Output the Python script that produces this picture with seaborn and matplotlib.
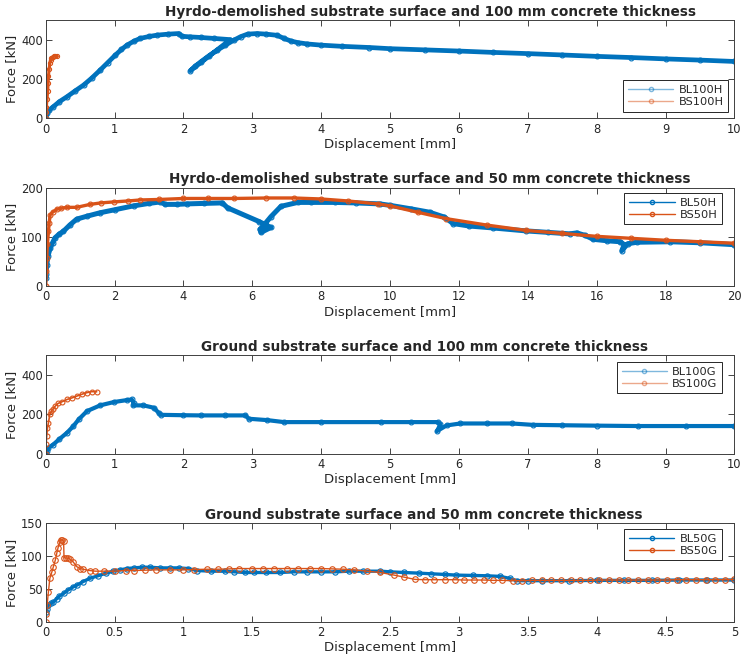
import matplotlib
matplotlib.use("Agg")
import matplotlib.pyplot as plt
from matplotlib.lines import Line2D
from matplotlib.ticker import FuncFormatter
import seaborn as sns
import pandas as pd

# ---------------- data ----------------
# Panel 1: hydro-demolished, 100 mm
bl100h_x = [0, 0.02, 0.05, 0.11, 0.2, 0.31, 0.43, 0.55, 0.67, 0.79, 0.9, 1.01, 1.1, 1.18, 1.28, 1.37,
            1.5, 1.62, 1.78, 1.93, 1.98, 2.1, 2.25, 2.45, 2.68, 2.1, 2.17, 2.25, 2.37, 2.49, 2.61, 2.73,
            2.83, 2.93, 3.07, 3.2, 3.36, 3.46, 3.56, 3.66, 3.8, 4.0, 4.3, 4.7, 5.0, 5.5, 6.0, 6.5, 7.0,
            7.5, 8.0, 8.5, 9.0, 9.5, 10.0]
bl100h_y = [0, 25, 42, 59, 85, 110, 140, 169, 205, 245, 283, 321, 350, 372, 392, 406,
            416, 423, 428, 431, 417, 414, 411, 406, 400, 242, 265, 287, 318, 346, 372, 397,
            415, 428, 431, 428, 422, 406, 393, 385, 378, 372, 366, 360, 354, 348, 342, 335, 329,
            322, 315, 309, 302, 296, 289]
bs100h_x = [0, 0.005, 0.01, 0.02, 0.03, 0.035, 0.04, 0.05, 0.06, 0.07, 0.08, 0.1, 0.12, 0.14, 0.17]
bs100h_y = [0, 30, 60, 100, 140, 180, 215, 250, 280, 296, 305, 312, 315, 316, 315]

# Panel 2: hydro-demolished, 50 mm
bl50h_x = [0, 0.01, 0.03, 0.07, 0.13, 0.2, 0.27, 0.4, 0.51, 0.7, 0.9, 1.2, 1.58, 2.0, 2.55, 3.0, 3.33,
           3.47, 3.8, 4.1, 4.6, 5.13, 5.28, 6.2, 6.54, 6.25, 6.22, 6.35, 6.54, 6.83, 7.32, 7.7, 8.4,
           9.0, 9.7, 10.0, 10.6, 11.15, 11.58, 11.83, 12.3, 13.0, 13.96, 14.6, 15.22, 15.42, 15.66,
           15.9, 16.3, 16.69, 16.8, 16.73, 16.9, 17.17, 18.14, 19.0, 20.0]
bl50h_y = [16, 25, 43, 62, 77, 88, 98, 106, 111, 124, 136, 142, 149, 155, 163, 168, 171,
           166, 166, 167, 168, 169, 159, 131, 119, 109, 115, 125, 141, 162, 170, 170, 170,
           169, 167, 164, 157, 150, 140, 127, 122, 118, 112, 109, 106, 108, 103,
           95, 92, 90, 84, 72, 86, 89, 90, 88, 84]
bs50h_x = [0, 0.02, 0.03, 0.05, 0.08, 0.1, 0.13, 0.2, 0.32, 0.45, 0.61, 0.9, 1.29, 1.6, 1.97, 2.4,
           2.75, 3.3, 4.0, 4.7, 5.47, 6.4, 7.2, 8.0, 8.77, 9.64, 10.0, 10.8, 11.63, 12.8, 13.96,
           15.0, 16.0, 17.0, 18.0, 19.0, 20.0]
bs50h_y = [0, 30, 57, 85, 111, 128, 145, 150, 156, 158, 160, 160, 166, 169, 171, 173,
           175, 176, 178, 178, 178, 179, 179, 177, 173, 167, 163, 150, 137, 124, 113,
           107, 101, 97, 93, 90, 87]

# Panel 3: ground, 100 mm
bl100g_x = [0, 0.02, 0.04, 0.11, 0.2, 0.31, 0.4, 0.48, 0.6, 0.79, 0.99, 1.18, 1.25, 1.28, 1.27, 1.42,
            1.57, 1.64, 1.67, 2.0, 2.25, 2.6, 2.9, 2.95, 3.22, 3.46, 4.0, 4.87, 5.3, 5.69, 5.73, 5.68,
            5.82, 6.02, 6.4, 6.77, 7.07, 7.5, 8.0, 8.6, 9.3, 10.0]
bl100g_y = [0, 15, 31, 47, 75, 107, 140, 175, 217, 246, 263, 273, 276, 256, 246, 246,
            234, 208, 198, 196, 195, 195, 195, 178, 171, 161, 161, 161, 161, 161, 149, 115,
            144, 154, 154, 154, 147, 145, 143, 141, 141, 141]
bs100g_x = [0, 0.005, 0.015, 0.025, 0.04, 0.06, 0.08, 0.11, 0.14, 0.18, 0.24, 0.31, 0.38, 0.45,
            0.52, 0.6, 0.67, 0.74]
bs100g_y = [0, 50, 90, 130, 158, 200, 215, 229, 243, 256, 265, 276, 284, 293, 302, 311, 316, 315]

# Panel 4: ground, 50 mm
bl50g_x = [0, 0.01, 0.02, 0.04, 0.056, 0.08, 0.1, 0.13, 0.16, 0.2, 0.23, 0.27, 0.32, 0.38, 0.44,
           0.49, 0.54, 0.59, 0.64, 0.7, 0.76, 0.83, 0.9, 0.97, 1.03, 1.1, 1.2, 1.3, 1.37, 1.45, 1.51,
           1.6, 1.7, 1.8, 1.9, 2.0, 2.1, 2.2, 2.3, 2.43, 2.5, 2.6, 2.71, 2.8, 2.9, 2.98, 3.1, 3.2,
           3.3, 3.37, 3.42, 3.5, 3.6, 3.8, 4.0, 4.2, 4.4, 4.6, 4.8, 5.0]
bl50g_y = [15, 20, 25, 28, 30, 35, 39, 43, 48, 53, 56, 61, 66, 70, 74,
           77, 79, 81, 82, 83, 83, 82, 82, 82, 81, 78, 77, 77, 76, 75, 75,
           75, 75, 76, 76, 76, 76, 77, 77, 77, 76, 75, 74, 73, 72, 71, 70.5, 70,
           69, 66, 62.5, 62.5, 62.5, 62.5, 63, 63, 63, 63.5, 63.5, 63.5]
bs50g_x = [0, 0.005, 0.01, 0.02, 0.03, 0.045, 0.056, 0.07, 0.08, 0.09, 0.104, 0.109, 0.117, 0.13,
           0.133, 0.15, 0.165, 0.18, 0.2, 0.225, 0.25, 0.27, 0.32, 0.36, 0.42, 0.5, 0.58, 0.64,
           0.72, 0.8, 0.9, 1.0, 1.08, 1.17, 1.25, 1.33, 1.4, 1.5, 1.58, 1.66, 1.75, 1.83, 1.92,
           2.0, 2.08, 2.16, 2.24, 2.33, 2.43, 2.53, 2.6, 2.68, 2.75, 2.82, 2.9, 2.97, 3.04, 3.11,
           3.18, 3.25, 3.31, 3.39, 3.46, 3.53, 3.6, 3.67, 3.74, 3.81, 3.88, 3.95, 4.02, 4.09,
           4.16, 4.23, 4.3, 4.37, 4.44, 4.51, 4.58, 4.65, 4.72, 4.79, 4.86, 4.93, 5.0]
bs50g_y = [0, 12, 25, 46, 66, 76, 84, 94, 104, 113, 122, 124.5, 125, 123,
           97.5, 97, 96.5, 95, 91, 84, 81, 80, 78, 77, 77, 77, 78, 78,
           78.5, 79, 79, 79, 79.5, 80, 80, 80.5, 81, 81, 81, 81, 81, 81, 81,
           81, 80.5, 80, 79, 77, 75, 71, 68, 64.5, 64, 64, 64, 64, 63.5, 63.5,
           63.5, 63, 63, 62.5, 62.5, 63, 63, 63, 63, 63, 63, 63, 63.5, 63.5,
           63.5, 63.5, 63.5, 63.5, 63.5, 63.5, 64, 64, 64, 64, 64, 64, 64.5]

titles = ["Hyrdo-demolished substrate surface and 100 mm concrete thickness",
          "Hyrdo-demolished substrate surface and 50 mm concrete thickness",
          "Ground substrate surface and 100 mm concrete thickness",
          "Ground substrate surface and 50 mm concrete thickness"]
labels = [("BL100H", "BS100H"), ("BL50H", "BS50H"), ("BL100G", "BS100G"), ("BL50G", "BS50G")]
xlims = [(0, 10), (0, 20), (0, 10), (0, 5)]
ylims = [(0, 500), (0, 200), (0, 500), (0, 150)]
xticks = [list(range(0, 11)), list(range(0, 21, 2)), list(range(0, 11)),
          [0, 0.5, 1, 1.5, 2, 2.5, 3, 3.5, 4, 4.5, 5]]
yticks = [[0, 200, 400], [0, 100, 200], [0, 200, 400], [0, 50, 100, 150]]

series = [((bl100h_x, bl100h_y), (bs100h_x, bs100h_y)),
          ((bl50h_x, bl50h_y), (bs50h_x, bs50h_y)),
          ((bl100g_x, bl100g_y), (bs100g_x, bs100g_y)),
          ((bl50g_x, bl50g_y), (bs50g_x, bs50g_y))]

# ---------------- style ----------------
sns.set_style("ticks")
plt.rcParams["font.family"] = ["DejaVu Sans"]
plt.rcParams.update({
    "xtick.direction": "in", "ytick.direction": "in",
    "xtick.top": True, "ytick.right": True,
    "xtick.major.size": 4, "ytick.major.size": 4,
    "xtick.major.width": 0.6, "ytick.major.width": 0.6,
    "xtick.color": "#262626", "ytick.color": "#262626",
    "axes.edgecolor": "#404040", "axes.linewidth": 0.7,
})

BLUE = "#0072BD"
ORANGE = "#D95319"

# per-panel line widths (dense series drawn as thick bands)
lw_blue = [3.4, 3.6, 3.0, 2.4]
lw_orange = [2.2, 2.4, 1.2, 1.0]
ms_blue = [3.5, 3.5, 3.5, 3.8]
ms_orange = [3.0, 3.5, 3.5, 4.0]
legend_alpha = [0.5, 1.0, 0.5, 1.0]
legend_loc = ["lower right", "upper right", "upper right", "upper right"]
legend_anchor = [(0.991, 0.067), (0.982, 0.946), (0.982, 0.932), (0.982, 0.942)]
title_x = [0.558, 0.558, 0.550, 0.549]

fig = plt.figure(figsize=(7.43, 6.61), dpi=100)
left, width, height = 0.0615, 0.927, 0.1488
bottoms = [0.821, 0.5673, 0.3135, 0.0595]

fmt = FuncFormatter(lambda v, p: f"{v:g}")

for i in range(4):
    ax = fig.add_axes([left, bottoms[i], width, height])
    (bx, by), (ox, oy) = series[i]
    dfb = pd.DataFrame({"x": bx, "y": by})
    dfo = pd.DataFrame({"x": ox, "y": oy})
    sns.lineplot(data=dfb, x="x", y="y", ax=ax, sort=False, estimator=None, color=BLUE,
                 linewidth=lw_blue[i], marker="o", markersize=ms_blue[i],
                 markerfacecolor="none", markeredgecolor=BLUE, markeredgewidth=0.8)
    sns.lineplot(data=dfo, x="x", y="y", ax=ax, sort=False, estimator=None, color=ORANGE,
                 linewidth=lw_orange[i], marker="o", markersize=ms_orange[i],
                 markerfacecolor="none", markeredgecolor=ORANGE, markeredgewidth=0.8)
    ax.set_xlim(*xlims[i])
    ax.set_ylim(*ylims[i])
    ax.set_xticks(xticks[i])
    ax.set_yticks(yticks[i])
    ax.xaxis.set_major_formatter(fmt)
    ax.tick_params(axis="x", labelsize=8.3, pad=3.2)
    ax.tick_params(axis="y", labelsize=8.3, pad=2)
    ax.set_xlabel("Displacement [mm]", fontsize=9.5, color="#262626", labelpad=1.5)
    ax.set_ylabel("Force [kN]", fontsize=9.5, color="#262626", labelpad=2.5)
    ax.set_title(titles[i], fontsize=9.8, fontweight="bold", pad=3, x=title_x[i])
    a = legend_alpha[i]
    handles = [Line2D([0], [0], color=BLUE, lw=1.0, alpha=a, marker="o", markersize=3,
                      markerfacecolor="none", markeredgecolor=BLUE),
               Line2D([0], [0], color=ORANGE, lw=1.0, alpha=a, marker="o", markersize=3,
                      markerfacecolor="none", markeredgecolor=ORANGE)]
    leg = ax.legend(handles, list(labels[i]), loc=legend_loc[i], bbox_to_anchor=legend_anchor[i],
                    borderaxespad=0, fontsize=8.2, handlelength=4.0, handletextpad=0.45,
                    labelspacing=0.2, borderpad=0.4, fancybox=False, framealpha=1,
                    edgecolor="#262626", numpoints=1)
    leg.get_frame().set_linewidth(0.7)
    for sp in ax.spines.values():
        sp.set_visible(True)

fig.savefig("out.png", dpi=100)
